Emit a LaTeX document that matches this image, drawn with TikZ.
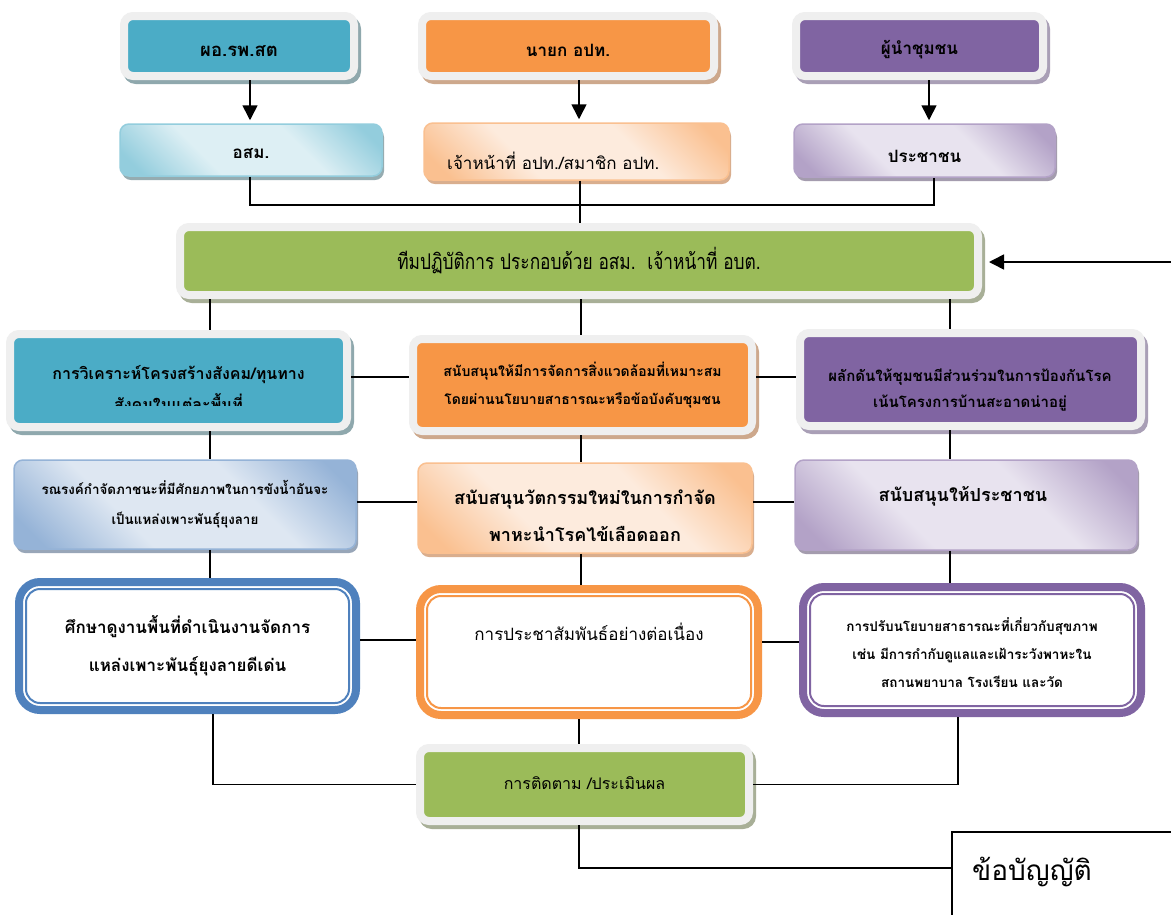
\documentclass[tikz,border=0pt]{standalone}
\usepackage{fontspec}
\newfontfamily\thai[Script=Thai]{Loma}
\usetikzlibrary{arrows.meta,calc}
\newcommand\tb[2]{\thai\bfseries\fontsize{#1}{#2}\selectfont}
\newcommand\tr[2]{\thai\fontsize{#1}{#2}\selectfont}
\newcommand\dn[2]{\raisebox{-#1}[\height][\depth]{#2}}
\definecolor{cFrame}{HTML}{EFEFEF}
\definecolor{cTeal}{HTML}{4BACC6}
\definecolor{cTealSh}{HTML}{8FA8AD}
\definecolor{cOrange}{HTML}{F79646}
\definecolor{cOrangeSh}{HTML}{CDA88C}
\definecolor{cPurple}{HTML}{8064A2}
\definecolor{cPurpleSh}{HTML}{A99FB6}
\definecolor{cGreen}{HTML}{9BBB59}
\definecolor{cGreenSh}{HTML}{A8AF97}
\definecolor{cBlue}{HTML}{4F81BD}
\definecolor{cLBlueD}{HTML}{93CDDD}
\definecolor{cLBlueL}{HTML}{DDEFF4}
\definecolor{cLBlueSh}{HTML}{95ACB1}
\definecolor{cLOrD}{HTML}{FAC090}
\definecolor{cLOrL}{HTML}{FDEBDD}
\definecolor{cLOrSh}{HTML}{D9AE8E}
\definecolor{cLPuD}{HTML}{B3A2C7}
\definecolor{cLPuL}{HTML}{E8E3EF}
\definecolor{cLPuSh}{HTML}{A49CAE}
\definecolor{cBlD}{HTML}{95B3D7}
\definecolor{cBlL}{HTML}{DEE7F2}
\definecolor{cBlSh}{HTML}{98A6B8}
\pgfdeclareverticalshading{shLB}{100bp}{color(0bp)=(cLBlueD); color(20bp)=(cLBlueD); color(38bp)=(cLBlueL); color(62bp)=(cLBlueL); color(80bp)=(cLBlueD); color(100bp)=(cLBlueD)}
\pgfdeclareverticalshading{shLO}{100bp}{color(0bp)=(cLOrD); color(20bp)=(cLOrD); color(38bp)=(cLOrL); color(62bp)=(cLOrL); color(80bp)=(cLOrD); color(100bp)=(cLOrD)}
\pgfdeclareverticalshading{shLP}{100bp}{color(0bp)=(cLPuD); color(20bp)=(cLPuD); color(38bp)=(cLPuL); color(62bp)=(cLPuL); color(80bp)=(cLPuD); color(100bp)=(cLPuD)}
\pgfdeclareverticalshading{shBl}{100bp}{color(0bp)=(cBlD); color(20bp)=(cBlD); color(38bp)=(cBlL); color(62bp)=(cBlL); color(80bp)=(cBlD); color(100bp)=(cBlD)}
\tikzset{
  conn/.style={draw=black, line width=1.6pt},
  arr/.style={conn, -{Triangle[width=15pt,length=15pt]}},
  framed/.style 2 args={rounded corners=9pt, draw=cFrame, line width=8pt, fill=#1,
    preaction={draw=#2, fill=#2, line width=8pt, transform canvas={shift={(3pt,-4pt)}}},
    align=center, text=black},
  grad/.style n args={3}{rounded corners=9pt, draw=#1, line width=1.5pt,
    shade, shading=#2, shading angle=-45,
    preaction={fill=#3, transform canvas={shift={(2pt,-4pt)}}},
    align=center, text=black},
  dbl/.style={rounded corners=21pt, draw=#1, line width=8pt, fill=white, align=center},
  innerline/.style={draw=#1, line width=2pt, rounded corners=14pt},
  txt/.style={align=center, inner sep=0pt},
}
\begin{document}
\begin{tikzpicture}[x=1pt,y=-1pt]
\useasboundingbox (0,0) rectangle (1171,914);
\fill[white] (0,0) rectangle (1171,914);
% row 1
\node[framed={cTeal}{cTealSh}, minimum width=230pt, minimum height=60pt, font=\tb{18.5}{20}] (a1) at (239,46) {\dn{5pt}{ผอ.รพ.สต}};
\node[framed={cOrange}{cOrangeSh}, minimum width=292pt, minimum height=60pt, font=\tb{17}{20}] (b1) at (568,46) {\dn{4pt}{นายก อปท.}};
\node[framed={cPurple}{cPurpleSh}, minimum width=247pt, minimum height=60pt, font=\tb{17}{20}] (c1) at (919.5,46) {\dn{4pt}{ผู้นำชุมชน}};
% row 2
\node[grad={cLBlueD}{shLB}{cLBlueSh}, minimum width=262pt, minimum height=52pt, font=\tb{17}{20}] (a2) at (251,150) {\dn{4pt}{อสม.}};
\node[grad={cLOrD}{shLO}{cLOrSh}, minimum width=305pt, minimum height=57pt] (b2) at (576.5,151.5) {};
\node[txt, anchor=west, font=\tr{17}{20}] (b2t) at (447,161) {เจ้าหน้าที่ อปท./สมาชิก อปท.};
\node[grad={cLPuD}{shLP}{cLPuSh}, minimum width=261pt, minimum height=53pt, font=\tb{17}{20}] (c2) at (924.5,150.5) {\dn{6pt}{ประชาชน}};
\draw[arr, shorten >=3pt] ([xshift=11pt]a1.south) -- ([xshift=11pt]a1.south |- a2.north);
\draw[arr, shorten >=3pt] ([xshift=11pt]b1.south) -- ([xshift=11pt]b1.south |- b2.north);
\draw[arr, shorten >=3pt] ([xshift=9.5pt]c1.south) -- ([xshift=9.5pt]c1.south |- c2.north);
% team box
\node[framed={cGreen}{cGreenSh}, minimum width=798pt, minimum height=68pt, font=\tr{17.3}{22}] (g) at (579,261) {\scalebox{1}[1.25]{ทีมปฏิบัติการ ประกอบด้วย อสม.\ \ เจ้าหน้าที่ อบต.}};
\coordinate (jL) at (250,205);
\coordinate (jR) at (934,205);
\draw[conn] (a2.south -| jL) -- (jL) -- (jR) -- (c2.south -| jR);
\draw[conn] ([xshift=3.5pt]b2.south) -- ([xshift=3.5pt]b2.south |- g.north);
\coordinate (ein) at (1171,262);
\draw[arr, shorten >=7pt] (ein) -- (g.east |- ein);
\coordinate (xL) at (210,0);
\coordinate (xM) at (581,0);
\coordinate (xR) at (950,0);
% row 3
\node[framed={cTeal}{cTealSh}, minimum width=337pt, minimum height=93pt] (a3) at (178.5,380.5) {};
\begin{scope}
\clip (14,338) rectangle (343,405);
\node[txt, font=\tb{16}{31}] (a3t) at (178.5,388.5) {การวิเคราะห์โครงสร้างสังคม/ทุนทาง\\สังคมในแต่ละพื้นที่};
\end{scope}
\node[framed={cOrange}{cOrangeSh}, minimum width=339pt, minimum height=92pt, font=\tb{14}{28}] (b3) at (582.5,385) {สนับสนุนให้มีการจัดการสิ่งแวดล้อมที่เหมาะสม\\โดยผ่านนโยบายสาธารณะหรือข้อบังคับชุมชน};
\node[framed={cPurple}{cPurpleSh}, minimum width=341pt, minimum height=93pt] (c3) at (970.5,379.5) {};
\node[txt, font=\tb{15}{26}] (c3t) at (970,390) {ผลักดันให้ชุมชนมีส่วนร่วมในการป้องกันโรค\\เน้นโครงการบ้านสะอาดน่าอยู่};
\draw[conn] (g.south -| xL) -- (a3.north -| xL);
\draw[conn] (g.south -| xM) -- (b3.north -| xM);
\draw[conn] (g.south -| xR) -- (c3.north -| xR);
\coordinate (y3) at (0,377);
\draw[conn] (a3.east |- y3) -- (b3.west |- y3);
\draw[conn] (b3.east |- y3) -- (c3.west |- y3);
% row 4
\node[grad={cBlD}{shBl}{cBlSh}, minimum width=342pt, minimum height=89pt, font=\tb{13.4}{30}] (a4) at (185,504.5) {รณรงค์กำจัดภาชนะที่มีศักยภาพในการขังน้ำอันจะ\\เป็นแหล่งเพาะพันธุ์ยุงลาย};
\node[grad={cLOrD}{shLO}{cLOrSh}, minimum width=334pt, minimum height=90pt] (b4) at (585,508) {};
\node[txt, font=\tb{18}{37}] (b4t) at (585,516) {สนับสนุนวัตกรรมใหม่ในการกำจัด\\พาหะนำโรคไข้เลือดออก};
\node[grad={cLPuD}{shLP}{cLPuSh}, minimum width=342pt, minimum height=90pt] (c4) at (966,505) {};
\node[txt, font=\tb{18}{20}] (c4t) at (963,496) {สนับสนุนให้ประชาชน};
\draw[conn] (a3.south -| xL) -- (a4.north -| xL);
\draw[conn] (b3.south -| xM) -- (b4.north -| xM);
\draw[conn] (c3.south -| xR) -- (c4.north -| xR);
\coordinate (y4) at (0,502);
\draw[conn] (a4.east |- y4) -- (b4.west |- y4);
\draw[conn] (b4.east |- y4) -- (c4.west |- y4);
% row 5
\node[dbl=cBlue, minimum width=337pt, minimum height=128pt, font=\tb{17}{38}] (a5) at (187.5,646) {ศึกษาดูงานพื้นที่ดำเนินงานจัดการ\\แหล่งเพาะพันธุ์ยุงลายดีเด่น};
\draw[innerline=cBlue] ([shift={(11pt,-11pt)}]a5.north west) rectangle ([shift={(-11pt,11pt)}]a5.south east);
\node[dbl=cOrange, minimum width=338pt, minimum height=126pt] (b5) at (589,652) {};
\draw[innerline=cOrange] ([shift={(11pt,-11pt)}]b5.north west) rectangle ([shift={(-11pt,11pt)}]b5.south east);
\node[txt, font=\tr{17}{20}] (b5t) at (589,632) {การประชาสัมพันธ์อย่างต่อเนื่อง};
\node[dbl=cPurple, minimum width=338pt, minimum height=126pt] (c5) at (972,650) {};
\draw[innerline=cPurple] ([shift={(11pt,-11pt)}]c5.north west) rectangle ([shift={(-11pt,11pt)}]c5.south east);
\node[txt, font=\tb{13.5}{28}] (c5t) at (972,653) {การปรับนโยบายสาธารณะที่เกี่ยวกับสุขภาพ\\เช่น มีการกำกับดูแลและเฝ้าระวังพาหะใน\\สถานพยาบาล โรงเรียน และวัด};
\draw[conn] (a4.south -| xL) -- (a5.north -| xL);
\draw[conn] (b4.south -| xM) -- (b5.north -| xM);
\draw[conn] (c4.south -| xR) -- (c5.north -| xR);
\coordinate (y5a) at (0,640);
\coordinate (y5b) at (0,642);
\draw[conn] (a5.east |- y5a) -- (b5.west |- y5a);
\draw[conn] (b5.east |- y5b) -- (c5.west |- y5b);
% evaluation
\node[framed={cGreen}{cGreenSh}, minimum width=329pt, minimum height=73pt, font=\tr{16}{20}] (e) at (584.5,784.5) {\dn{-1pt}{การติดตาม /ประเมินผล}};
\coordinate (xE1) at (213,0);
\coordinate (xE2) at (958,0);
\coordinate (xE3) at (579,0);
\draw[conn] (a5.south -| xE1) |- (e.west);
\draw[conn] (c5.south -| xE2) |- (e.east);
\draw[conn] (b5.south -| xE3) -- (e.north -| xE3);
% regulation box
\node[draw, line width=1.6pt, anchor=north west, minimum width=300pt, minimum height=150pt] (rule) at (951,831) {};
\node[txt, anchor=base west, font=\tr{28}{36}] (rulet) at (972,880) {ข้อบัญญัติ};
\coordinate (yR) at (0,868);
\draw[conn] (e.south -| xE3) |- (rule.west |- yR);
\end{tikzpicture}
\end{document}
